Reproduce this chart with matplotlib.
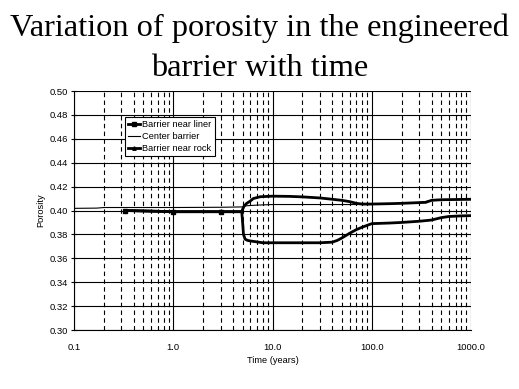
import numpy as np
import matplotlib
matplotlib.use('Agg')
from matplotlib import pyplot as plt
from matplotlib.ticker import LogLocator, FixedLocator, FuncFormatter, NullFormatter

# data
t_liner = [0.33, 1, 3, 4.9, 5.0, 5.1, 5.3, 5.6, 6, 7, 8, 10, 15, 20, 30, 40,
           45, 50, 60, 70, 80, 100, 150, 200, 300, 400, 500, 600, 800, 1000]
p_liner = [0.400, 0.399, 0.399, 0.399, 0.390, 0.380, 0.376, 0.375, 0.3745,
           0.3737, 0.373, 0.373, 0.373, 0.373, 0.373, 0.3735, 0.375, 0.377,
           0.381, 0.384, 0.386, 0.389, 0.3895, 0.390, 0.391, 0.392, 0.394,
           0.395, 0.3955, 0.3957]

t_center = [0.1, 0.17, 0.2, 1, 3, 5, 5.5, 7, 10, 20, 40, 60, 80, 100, 200,
            300, 400, 500, 1000]
p_center = [0.4018, 0.402, 0.4025, 0.4025, 0.4027, 0.403, 0.404, 0.4045, 0.405,
            0.405, 0.405, 0.405, 0.405, 0.405, 0.406, 0.4065, 0.4085, 0.409,
            0.4092]

t_rock = [0.33, 1, 3, 4.9, 5.0, 5.2, 5.5, 6, 6.4, 7.5, 10, 15, 20, 30, 40, 50,
          60, 70, 80, 100, 150, 200, 300, 350, 400, 500, 700, 1000]
p_rock = [0.400, 0.399, 0.399, 0.399, 0.401, 0.404, 0.406, 0.408, 0.410,
          0.4115, 0.412, 0.4118, 0.4114, 0.4105, 0.4094, 0.4085, 0.4074,
          0.406, 0.4054, 0.4054, 0.4057, 0.406, 0.4066, 0.4068, 0.4085,
          0.409, 0.4092, 0.4094]

y_ticks = np.arange(0.30, 0.501, 0.02)
x_ticks = [0.1, 1, 10, 100, 1000]

title_lines = ['Variation of porosity in the engineered', 'barrier with time']

fig = plt.figure(figsize=(5.19, 3.89), dpi=100)
ax = fig.add_axes([74 / 519, 1 - 330 / 389, 397 / 519, 239 / 389])

small = {'family': 'Liberation Sans', 'size': 6.7}

ax.plot(t_liner, p_liner, color='black', lw=2.0, marker='s', ms=2.5,
        markevery=[0, 1, 2], label='Barrier near liner', zorder=4)
ax.plot(t_center, p_center, color='black', lw=0.8, label='Center barrier', zorder=3)
ax.plot(t_rock, p_rock, color='black', lw=2.0, marker='^', ms=2.5,
        markevery=[0, 1, 2], label='Barrier near rock', zorder=4)

ax.set_xscale('log')
ax.set_xlim(0.1, 1000)
ax.set_ylim(0.30, 0.50)
ax.xaxis.set_major_locator(FixedLocator(x_ticks))
ax.xaxis.set_minor_locator(LogLocator(base=10, subs=np.arange(2, 10)))
ax.xaxis.set_major_formatter(FuncFormatter(lambda v, p: '%.1f' % v))
ax.xaxis.set_minor_formatter(NullFormatter())
ax.set_yticks(y_ticks)
ax.yaxis.set_major_formatter(FuncFormatter(lambda v, p: '%.2f' % v))

ax.grid(True, which='major', color='black', lw=0.8, ls='-')
ax.grid(True, which='minor', axis='x', color='black', lw=0.8, ls=(0, (4, 3)))
ax.set_axisbelow(True)

ax.tick_params(axis='y', which='major', direction='inout', length=5, width=0.8, pad=2)
ax.tick_params(axis='x', which='major', length=0, pad=9)
ax.tick_params(axis='x', which='minor', length=0)
for lab in ax.get_xticklabels() + ax.get_yticklabels():
    lab.set_fontfamily('Liberation Sans')
    lab.set_fontsize(6.8)

for side in ['top', 'right']:
    ax.spines[side].set_visible(False)
for side in ['left', 'bottom']:
    ax.spines[side].set_linewidth(0.8)

ax.set_xlabel('Time (years)', fontdict=small, labelpad=3)
ax.set_ylabel('Porosity', fontdict=small, labelpad=3)

leg = ax.legend(loc='upper left', bbox_to_anchor=(0.128, 0.891), prop=small,
                frameon=True, fancybox=False, edgecolor='black', framealpha=1,
                handlelength=1.3, handletextpad=0.3, borderpad=0.3,
                labelspacing=0.35, borderaxespad=0)
leg.get_frame().set_linewidth(0.8)

# two title lines placed on their baselines
for line, base in zip(title_lines, [36, 76]):
    fig.text(0.5, 1 - base / 389, line, ha='center', va='baseline',
             family='Liberation Serif', fontsize=23.3)

fig.savefig('out.png', dpi=100)
